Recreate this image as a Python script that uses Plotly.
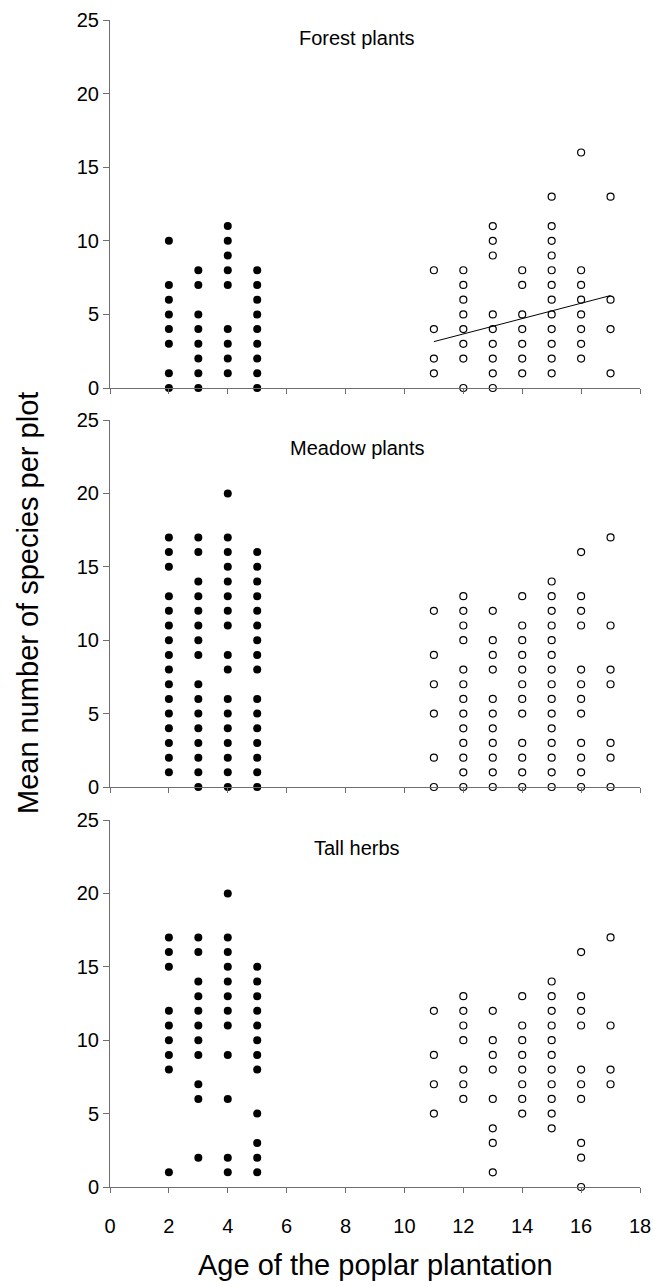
import plotly.graph_objects as go

# ---------------- data ----------------
panel_titles = ["Forest plants", "Meadow plants", "Tall herbs"]

# young plantations (filled markers): age -> list of species counts
forest_young = {2: [10, 7, 6, 5, 4, 3, 1, 0],
                3: [8, 7, 5, 4, 3, 2, 1, 0],
                4: [11, 10, 9, 8, 7, 4, 3, 2, 1],
                5: [8, 7, 6, 5, 4, 3, 2, 1, 0]}
forest_old = {11: [8, 4, 2, 1],
              12: [8, 7, 6, 5, 4, 3, 2, 0],
              13: [11, 10, 9, 5, 4, 3, 2, 1, 0],
              14: [8, 7, 5, 4, 3, 2, 1],
              15: [13, 11, 10, 9, 8, 7, 6, 5, 4, 3, 2, 1],
              16: [16, 8, 7, 6, 5, 4, 3, 2],
              17: [13, 6, 4, 1]}
forest_trend_x = [11, 17]
forest_trend_y = [3.15, 6.28]

meadow_young = {2: [17, 16, 15, 13, 12, 11, 10, 9, 8, 7, 6, 5, 4, 3, 2, 1],
                3: [17, 16, 14, 13, 12, 11, 10, 9, 7, 6, 5, 4, 3, 2, 1, 0],
                4: [20, 17, 16, 15, 14, 13, 12, 11, 9, 8, 6, 5, 4, 3, 2, 1, 0],
                5: [16, 15, 14, 13, 12, 11, 10, 9, 8, 6, 5, 4, 3, 2, 1, 0]}
meadow_old = {11: [12, 9, 7, 5, 2, 0],
              12: [13, 12, 11, 10, 8, 7, 6, 5, 4, 3, 2, 1, 0],
              13: [12, 10, 9, 8, 6, 5, 4, 3, 2, 1, 0],
              14: [13, 11, 10, 9, 8, 7, 6, 5, 3, 2, 1, 0],
              15: [14, 13, 12, 11, 10, 9, 8, 7, 6, 5, 4, 3, 2, 1, 0],
              16: [16, 13, 12, 11, 8, 7, 6, 5, 3, 2, 1, 0],
              17: [17, 11, 8, 7, 3, 2, 0]}

tall_young = {2: [17, 16, 15, 12, 11, 10, 9, 8, 1],
              3: [17, 16, 14, 13, 12, 11, 10, 9, 7, 6, 2],
              4: [20, 17, 16, 15, 14, 13, 12, 11, 9, 6, 2, 1],
              5: [15, 14, 13, 12, 11, 10, 9, 8, 5, 3, 2, 1]}
tall_old = {11: [12, 9, 7, 5],
            12: [13, 12, 11, 10, 8, 7, 6],
            13: [12, 10, 9, 8, 6, 4, 3, 1],
            14: [13, 11, 10, 9, 8, 7, 6, 5],
            15: [14, 13, 12, 11, 10, 9, 8, 7, 6, 5, 4],
            16: [16, 13, 12, 11, 8, 7, 6, 3, 2, 0],
            17: [17, 11, 8, 7]}

x_ticks = [0, 2, 4, 6, 8, 10, 12, 14, 16, 18]
y_ticks = [0, 5, 10, 15, 20, 25]

# ---------------- figure ----------------
W, H = 653, 1287
FONT = "Liberation Sans, Arial, sans-serif"
AXCOL = "#6e6e6e"

def flat(d):
    xs, ys = [], []
    for k, vals in d.items():
        for v in vals:
            xs.append(k)
            ys.append(v)
    return xs, ys

panels = [(forest_young, forest_old), (meadow_young, meadow_old), (tall_young, tall_old)]
rows_px = [(20, 388), (420, 787), (820, 1187)]
x_px = (110, 640)
title_y = [23.8, 23.1, 23.1]

fig = go.Figure()
for i, (young, old) in enumerate(panels):
    n = "" if i == 0 else str(i + 1)
    xa, ya = "x" + n, "y" + n
    xy, yy = flat(young)
    xo, yo = flat(old)
    fig.add_trace(go.Scatter(x=xy, y=yy, mode="markers", xaxis=xa, yaxis=ya,
                             marker=dict(symbol="circle", size=8, color="black",
                                         line=dict(width=0)),
                             cliponaxis=False, showlegend=False))
    fig.add_trace(go.Scatter(x=xo, y=yo, mode="markers", xaxis=xa, yaxis=ya,
                             marker=dict(symbol="circle", size=7, color="white",
                                         line=dict(width=1.2, color="black")),
                             cliponaxis=False, showlegend=False))
    if i == 0:
        fig.add_trace(go.Scatter(x=forest_trend_x, y=forest_trend_y, mode="lines",
                                 xaxis=xa, yaxis=ya, line=dict(color="black", width=1),
                                 showlegend=False))
    top, bot = rows_px[i]
    fig.layout["xaxis" + n] = dict(
        domain=[x_px[0] / W, x_px[1] / W], range=[0, 18], anchor=ya, automargin=False,
        tickvals=x_ticks, showticklabels=(i == 2), ticks="outside", ticklen=5,
        ticklabelstandoff=16,
        tickcolor=AXCOL, showline=True, linecolor=AXCOL, linewidth=1,
        showgrid=False, zeroline=False,
        tickfont=dict(family=FONT, size=20, color="black"),
    )
    fig.layout["yaxis" + n] = dict(
        domain=[1 - bot / H, 1 - top / H], range=[0, 25], anchor=xa, automargin=False,
        tickvals=y_ticks, ticks="outside", ticklen=6, tickcolor=AXCOL,
        showline=True, linecolor=AXCOL, linewidth=1, showgrid=False, zeroline=False,
        tickfont=dict(family=FONT, size=20, color="black"),
    )
    fig.add_annotation(x=8.4, y=title_y[i], xref=xa, yref=ya, text=panel_titles[i],
                       showarrow=False, font=dict(family=FONT, size=20, color="black"))

fig.add_annotation(x=375 / W, y=1 - 1265 / H, xref="paper", yref="paper",
                   xanchor="center", yanchor="middle",
                   text="Age of the poplar plantation", showarrow=False,
                   font=dict(family=FONT, size=29, color="black"))
fig.add_annotation(x=28 / W, y=1 - 603 / H, xref="paper", yref="paper",
                   xanchor="center", yanchor="middle",
                   text="Mean number of species per plot", showarrow=False, textangle=-90,
                   font=dict(family=FONT, size=29, color="black"))

fig.update_layout(width=W, height=H, margin=dict(l=0, r=0, t=0, b=0),
                  paper_bgcolor="white", plot_bgcolor="white",
                  font=dict(family=FONT, color="black"))

fig.write_html("out.html")
